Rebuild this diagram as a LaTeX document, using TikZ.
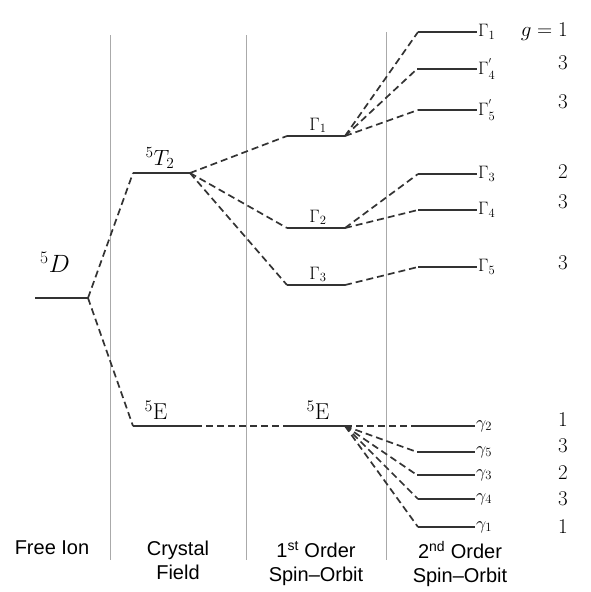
\RequirePackage{fix-cm}
\documentclass[tikz,border=0pt]{standalone}
\usepackage{fontspec}
\setsansfont{Liberation Sans}
\definecolor{lc}{HTML}{333333}
\definecolor{sepc}{HTML}{AAAAAA}
\tikzset{
  lvl/.style={line width=1.8pt, color=lc},
  conn/.style={dash pattern=on 7pt off 4pt, line width=1.7pt, color=lc},
  sepline/.style={color=sepc, line width=1pt},
  big/.style={font=\fontsize{25}{28}\selectfont, inner sep=0pt},
  mid/.style={font=\fontsize{18}{22}\selectfont, inner sep=1pt},
  small/.style={font=\fontsize{18}{20}\selectfont, inner sep=1pt},
  deg/.style={font=\fontsize{21}{22}\selectfont, anchor=east, inner sep=0pt},
  captext/.style={font=\sffamily\fontsize{20}{24}\selectfont, align=center, anchor=north, inner sep=0pt},
}
\begin{document}
\begin{tikzpicture}[x=1pt,y=-1pt]
\useasboundingbox (0,0) rectangle (590,592);
% separators
\coordinate (s1t) at (110,35); \coordinate (s1b) at (110,560);
\coordinate (s2t) at (246,35); \coordinate (s2b) at (246,560);
\coordinate (s3t) at (386,32); \coordinate (s3b) at (386,560);
\draw[sepline] (s1t) -- (s1b);
\draw[sepline] (s2t) -- (s2b);
\draw[sepline] (s3t) -- (s3b);
% free ion
\coordinate (DL) at (35,298); \coordinate (DR) at (88,298);
% crystal field
\coordinate (TL) at (133,173); \coordinate (TR) at (190,173);
\coordinate (EL) at (133,426); \coordinate (ER) at (195,426);
% first order
\coordinate (G1L) at (287,136); \coordinate (G1R) at (345,136);
\coordinate (G2L) at (287,228); \coordinate (G2R) at (345,228);
\coordinate (G3L) at (287,285); \coordinate (G3R) at (345,285);
\coordinate (E1L) at (287,426); \coordinate (E1R) at (345,426);
% second order
\coordinate (A1L) at (418,32);  \coordinate (A1R) at (477,32);
\coordinate (A4pL) at (417,69); \coordinate (A4pR) at (477,69);
\coordinate (A5pL) at (418,110); \coordinate (A5pR) at (477,110);
\coordinate (A3L) at (418,174); \coordinate (A3R) at (477,174);
\coordinate (A4L) at (418,210); \coordinate (A4R) at (477,210);
\coordinate (A5L) at (418,267); \coordinate (A5R) at (477,267);
\coordinate (g2L) at (418,426); \coordinate (g2R) at (475,426);
\coordinate (g5L) at (417,452); \coordinate (g5R) at (475,452);
\coordinate (g3L) at (417,475); \coordinate (g3R) at (475,475);
\coordinate (g4L) at (418,499); \coordinate (g4R) at (475,499);
\coordinate (g1L) at (418,527); \coordinate (g1R) at (475,527);
% levels
\foreach \n in {D,T,E,G1,G2,G3,E1,A1,A4p,A5p,A3,A4,A5,g2,g5,g3,g4,g1}
  \draw[lvl] (\n L) -- (\n R);
% connectors
\draw[conn] (DR) -- (TL);
\draw[conn] (DR) -- (EL);
\draw[conn] (TR) -- (G1L);
\draw[conn] (TR) -- (G2L);
\draw[conn] (TR) -- (G3L);
\draw[conn] (ER) -- (E1L);
\draw[conn] (G1R) -- (A1L);
\draw[conn] (G1R) -- (A4pL);
\draw[conn] (G1R) -- (A5pL);
\draw[conn] (G2R) -- (A3L);
\draw[conn] (G2R) -- (A4L);
\draw[conn] (G3R) -- (A5L);
\foreach \n in {g2,g5,g3,g4,g1}
  \draw[conn] (E1R) -- (\n L);
% level labels
\node[big] (lD) at (55,262) {$^5D$};
\node[mid, font=\fontsize{22}{24}\selectfont] (lT) at (160,158) {$^5T_2$};
\node[big, font=\fontsize{23}{26}\selectfont] (lE) at (156,410) {$^5\mathrm{E}$};
\node[mid, anchor=south] (lG1) at (318,134) {$\Gamma_1$};
\node[mid, anchor=south] (lG2) at (318,226) {$\Gamma_2$};
\node[mid, anchor=south] (lG3) at (318,283) {$\Gamma_3$};
\node[big, font=\fontsize{23}{26}\selectfont] (lE1) at (318,410) {$^5\mathrm{E}$};
\node[small, anchor=west] (lA1) at (A1R) {$\Gamma_1$};
\node[small, anchor=west] (lA4p) at (A4pR) {$\Gamma_4^{'}$};
\node[small, anchor=west] (lA5p) at (A5pR) {$\Gamma_5^{'}$};
\node[small, anchor=west] (lA3) at (A3R) {$\Gamma_3$};
\node[small, anchor=west] (lA4) at (A4R) {$\Gamma_4$};
\node[small, anchor=west] (lA5) at (A5R) {$\Gamma_5$};
\node[small, anchor=west] (lg2) at (g2R) {$\gamma_2$};
\node[small, anchor=west] (lg5) at (g5R) {$\gamma_5$};
\node[small, anchor=west] (lg3) at (g3R) {$\gamma_3$};
\node[small, anchor=west] (lg4) at (g4R) {$\gamma_4$};
\node[small, anchor=west] (lg1) at (g1R) {$\gamma_1$};
% degeneracies
\node[deg] (d1) at (568,32) {$g=1$};
\node[deg] (d2) at (568,63) {$3$};
\node[deg] (d3) at (568,102) {$3$};
\node[deg] (d4) at (568,172) {$2$};
\node[deg] (d5) at (568,202) {$3$};
\node[deg] (d6) at (568,263) {$3$};
\node[deg] (d7) at (568,420) {$1$};
\node[deg] (d8) at (568,446) {$3$};
\node[deg] (d9) at (568,473) {$2$};
\node[deg] (d10) at (568,499) {$3$};
\node[deg] (d11) at (568,527) {$1$};
% captions
\node[captext] (c1) at (52,541) {Free Ion};
\node[captext] (c2) at (178,541) {Crystal\\Field};
\node[captext] (c3) at (316,541) {1\textsuperscript{st} Order\\Spin--Orbit};
\node[captext] (c4) at (460,541) {2\textsuperscript{nd} Order\\Spin--Orbit};
\end{tikzpicture}
\end{document}
